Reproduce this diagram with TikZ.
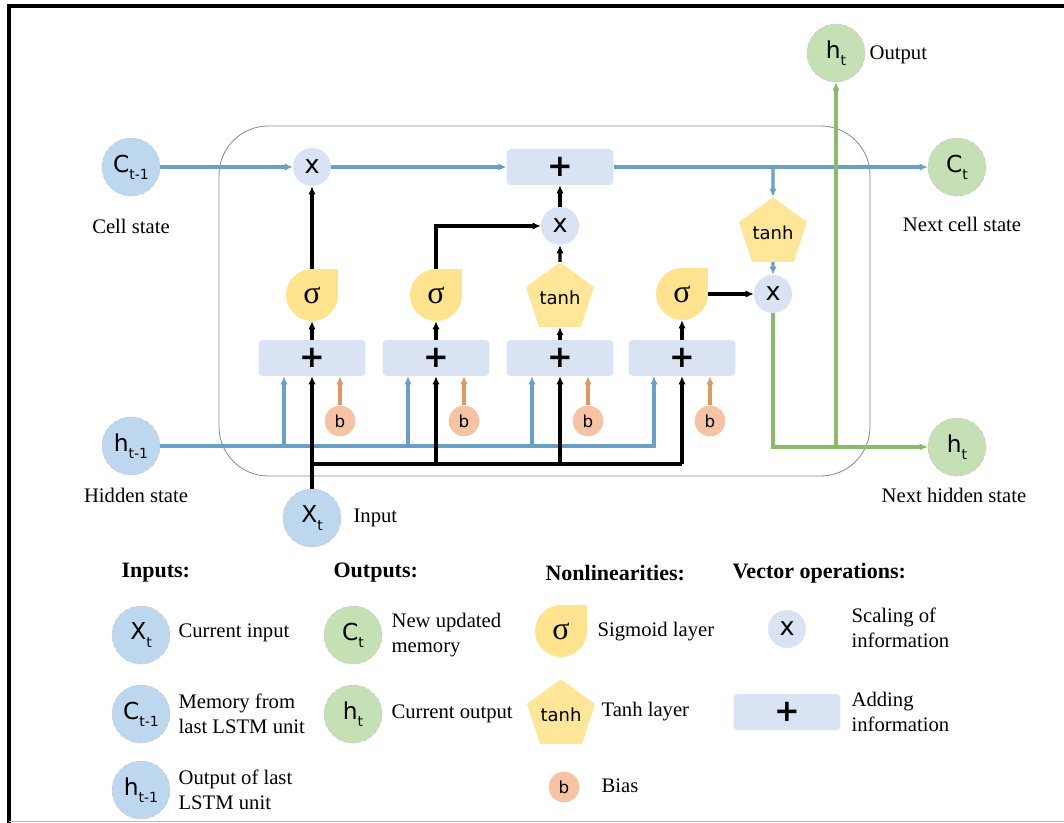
\documentclass[tikz,border=0pt]{standalone}
\usepackage{fontspec}
\setmainfont{Liberation Serif}
\newfontfamily\gatefont{DejaVu Sans}
\usetikzlibrary{arrows.meta,shapes.geometric,positioning}

\definecolor{inblue}{HTML}{BDD7EE}
\definecolor{outgreen}{HTML}{C5E0B4}
\definecolor{sigyellow}{HTML}{FFE38F}
\definecolor{tanhyellow}{HTML}{FFE699}
\definecolor{biasorange}{HTML}{F6C4A2}
\definecolor{opblue}{HTML}{DAE3F3}
\definecolor{lineblue}{HTML}{6A9FC8}
\definecolor{linegreen}{HTML}{8DB96A}
\definecolor{lineorange}{HTML}{DC9A62}
\definecolor{cellframe}{HTML}{7A8A9A}

\pgfdeclarelayer{bg}
\pgfsetlayers{bg,main}

\newcommand{\lowsub}[1]{\raisebox{-0.55ex}{\fontsize{10.5}{10.5}\selectfont #1}}

\tikzset{
  state/.style={circle, minimum size=43.5pt, inner sep=0pt, draw=gray!45, densely dashed, line width=0.4pt,
    font=\gatefont\fontsize{17.5}{17.5}\selectfont},
  instate/.style={state, fill=inblue},
  outstate/.style={state, fill=outgreen},
  mult/.style={circle, fill=opblue, minimum size=28.5pt, inner sep=0pt, font=\gatefont\fontsize{19}{19}\selectfont},
  addbox/.style={rectangle, fill=opblue, rounded corners=3pt, minimum width=80pt, minimum height=27pt,
    font=\gatefont\bfseries\fontsize{23}{23}\selectfont},
  sig/.style={circle, fill=sigyellow, minimum size=39pt, inner sep=0pt, font=\fontsize{24}{24}\selectfont},
  tanhgate/.style={regular polygon, regular polygon sides=5, fill=tanhyellow, minimum size=45.75pt, inner sep=0pt,
    font=\gatefont\fontsize{13.5}{13.5}\selectfont},
  bias/.style={circle, fill=biasorange, minimum size=23pt, inner sep=0pt, font=\gatefont\fontsize{12.5}{12.5}\selectfont},
  lbl/.style={inner sep=1pt, font=\fontsize{15.5}{18.75}\selectfont},
  head/.style={inner sep=1pt, font=\bfseries\fontsize{16.5}{18}\selectfont},
  flow/.style={line width=2.3pt},
  tip/.style={-{Latex[length=6pt,width=5.5pt]}},
  bline/.style={flow, draw=lineblue, tip},
  kline/.style={flow, draw=black, tip},
  kplain/.style={flow, draw=black},
  gline/.style={flow, draw=linegreen, tip},
  oline/.style={flow, draw=lineorange, tip},
}

\begin{document}
\begin{tikzpicture}[x=0.75pt,y=-0.75pt]
\useasboundingbox (0,0) rectangle (1064,823);
% frame
\draw[line width=2.4pt] (9,823) -- (9,6) -- (1064,6);
\draw[gray!55, line width=1pt] (9,821.5) -- (1064,821.5);
% LSTM cell
\draw[cellframe, line width=0.6pt, rounded corners=37pt] (219,126) rectangle (870,476);

% states around the cell
\node[instate] (cprev) at (131,167) {C\lowsub{t-1}};
\node[lbl] at (131,226) {Cell state};
\node[instate] (hprev) at (131,446) {h\lowsub{t-1}};
\node[lbl] at (136,495) {Hidden state};
\node[instate] (xin) at (312,518) {X\lowsub{t}};
\node[lbl, anchor=west] at (352,518) {Input};
\node[outstate] (cnext) at (957,167) {C\lowsub{t}};
\node[lbl] at (962,224) {Next cell state};
\node[outstate] (hnext) at (957,447) {h\lowsub{t}};
\node[lbl] at (954,495) {Next hidden state};
\node[outstate] (hout) at (836,53) {h\lowsub{t}};
\node[lbl, anchor=west] at (868,55) {Output};

% operations
\node[mult] (fmul) at (312,167) {x};
\node[addbox] (cadd) at (560,167) {+};
\node[mult] (imul) at (560,226) {x};
\node[tanhgate] (otanh) at (773,233) {tanh};
\node[mult] (omul) at (773,294) {x};

% gates
\node[sig] (sg1) at (312,295) {σ};
\node[sig] (sg2) at (436,295) {σ};
\node[tanhgate] (ctanh) at (560,298) {tanh};
\node[sig] (sg4) at (682,294) {σ};
\foreach \i/\x in {1/312,2/436,3/560,4/682} {
  \node[addbox] (add\i) at (\x,358) {+};
  \node[bias] (b\i) at (\x+28,421) {b};
  \coordinate (hb\i) at (\x-28,446);
  \coordinate (kb\i) at (\x,464);
}
\coordinate (ctap) at (773,167);
\coordinate (gtap) at (836,447);

% cell state
\draw[bline] (cprev) -- (fmul);
\draw[bline] (fmul) -- (cadd);
\draw[bline] (cadd) -- (cnext);
\draw[bline] (ctap) -- (otanh);
\draw[bline] (otanh) -- (omul);

% hidden state and input
\draw[bline] (hprev) -| (hb4 |- add4.south);
\foreach \i in {1,2,3}
  \draw[bline] (hb\i) -- (hb\i |- add\i.south);
\draw[kplain] (kb1) -- (kb4);
\draw[kline] (xin) -- (add1);
\foreach \i in {2,3,4}
  \draw[kline] (kb\i) -- (add\i);
\foreach \i in {1,2,3,4}
  \draw[oline] (b\i) -- (b\i |- add\i.south);

% gate outputs
\draw[kline] (add1) -- (sg1);
\draw[kline] (add2) -- (sg2);
\draw[kline] (add3) -- (ctanh);
\draw[kline] (add4) -- (sg4);
\draw[kline] (sg1) -- (fmul);
\draw[kline] (sg2) |- (imul);
\draw[kline] (ctanh) -- (imul);
\draw[kline] (imul) -- (cadd);
\draw[kline] (sg4) -- (omul);
\draw[gline] (omul) |- (hnext);
\draw[gline] (gtap) -- (hout);

% legend
\node[head, anchor=west] at (120,573) {Inputs:};
\node[instate] (lx) at (141,635) {X\lowsub{t}};
\node[lbl, anchor=west] at (177,633) {Current input};
\node[instate] (lc) at (141,714) {C\lowsub{t-1}};
\node[lbl, anchor=west, align=left] at (177,714) {Memory from\\last LSTM unit};
\node[instate] (lh) at (141,790) {h\lowsub{t-1}};
\node[lbl, anchor=west, align=left] at (177,790) {Output of last\\LSTM unit};

\node[head, anchor=west] at (332,573) {Outputs:};
\node[outstate] (lcn) at (353,635) {C\lowsub{t}};
\node[lbl, anchor=west, align=left] at (390,635) {New updated\\memory};
\node[outstate] (lhn) at (353,714) {h\lowsub{t}};
\node[lbl, anchor=west] at (390,714) {Current output};

\node[head, anchor=west] at (544,573) {Nonlinearities:};
\node[sig] (lsig) at (561,631) {σ};
\node[lbl, anchor=west] at (596,632) {Sigmoid layer};
\node[tanhgate] (ltanh) at (561,715) {tanh};
\node[lbl, anchor=west] at (600,712) {Tanh layer};
\node[bias] (lb) at (564,787) {b};
\node[lbl, anchor=west] at (600,786) {Bias};

\node[head, anchor=west] at (731,573) {Vector operations:};
\node[mult] (lmul) at (787,629) {x};
\node[lbl, anchor=west, align=left] at (850,628) {Scaling of\\information};
\node[addbox] (ladd) at (787,712) {+};
\node[lbl, anchor=west, align=left] at (850,712) {Adding\\information};

% square corner of the sigmoid shape
\begin{pgfonlayer}{bg}
\foreach \g in {sg1,sg2,sg4,lsig}
  \fill[sigyellow] (\g.center) rectangle (\g.north -| \g.east);
\end{pgfonlayer}
\end{tikzpicture}
\end{document}
